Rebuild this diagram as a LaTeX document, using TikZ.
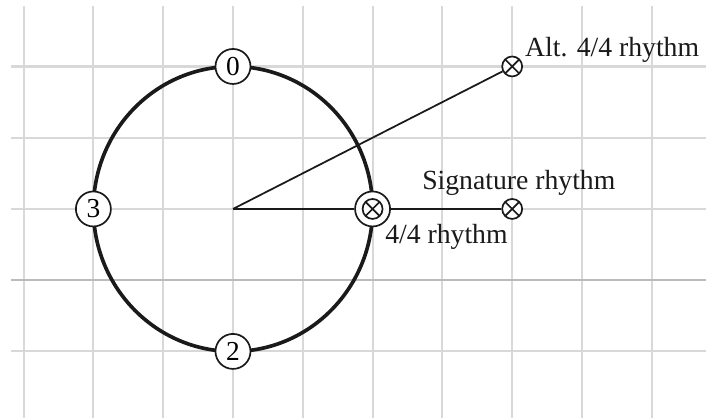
\documentclass[tikz,border=0pt]{standalone}
\usepackage{fontspec}
\setmainfont{Liberation Serif}
\definecolor{gridgray}{HTML}{D8D8D8}
\definecolor{griddark}{HTML}{BBBBBB}
\definecolor{ink}{HTML}{1A1A1A}
\begin{document}
\begin{tikzpicture}[x=1.745cm,y=1.781cm,
  gridline/.style={line width=1.5pt, color=gridgray},
  griddarkline/.style={line width=1.5pt, color=griddark},
  rimline/.style={line width=2.6pt, color=ink},
  spoke/.style={line width=1.6pt, color=ink},
  thinspoke/.style={line width=1.25pt, color=ink},
  numnode/.style={circle, draw=ink, line width=1.2pt, fill=white, minimum size=24.9pt, inner sep=0pt,
    font=\fontsize{19.5}{21}\selectfont},
  ringnode/.style={circle, draw=ink, line width=1.2pt, fill=white, minimum size=24.9pt, inner sep=0pt},
  xnode/.style={circle, draw=ink, line width=1.2pt, fill=white, minimum size=14.2pt, inner sep=0pt,
    path picture={\draw[line width=1.2pt, ink]
      (path picture bounding box.north west) -- (path picture bounding box.south east)
      (path picture bounding box.north east) -- (path picture bounding box.south west);}},
  lbl/.style={inner sep=0pt, anchor=base west, text=ink, font=\fontsize{19.7}{22}\selectfont}
]
\useasboundingbox (-3.338,-2.933) rectangle (6.777,2.933);
% grid
\foreach \x in {-3,...,6} \draw[gridline] (\x,2.85) -- (\x,-2.933);
\foreach \y in {-2,0,1,2} \draw[gridline] (-3.18,\y) -- (6.777,\y);
\draw[griddarkline] (-3.18,-1) -- (6.777,-1);
% rim
\draw[rimline] (0,0) circle [radius=2];
% nodes
\coordinate (c) at (0,0);
\node[numnode] (n0) at (0,2) {0};
\node[numnode] (n2) at (0,-2) {2};
\node[numnode] (n3) at (-2,0) {3};
\node[ringnode] (ring) at (2,0) {};
\node[xnode] (one) at (2,0) {};
\node[xnode] (sig) at (4,0) {};
\node[xnode] (alt) at (4,2) {};
% connectors
\draw[thinspoke] (c) -- (alt);
\draw[spoke] (c) -- (ring);
\draw[spoke] (ring) -- (sig);
% labels
\node[lbl] (altlbl) at (4.183,2.133) {Alt. 4/4 rhythm};
\node[lbl] (siglbl) at (2.708,0.267) {Signature rhythm};
\node[lbl] (onelbl) at (2.178,-0.491) {4/4 rhythm};
\end{tikzpicture}
\end{document}
